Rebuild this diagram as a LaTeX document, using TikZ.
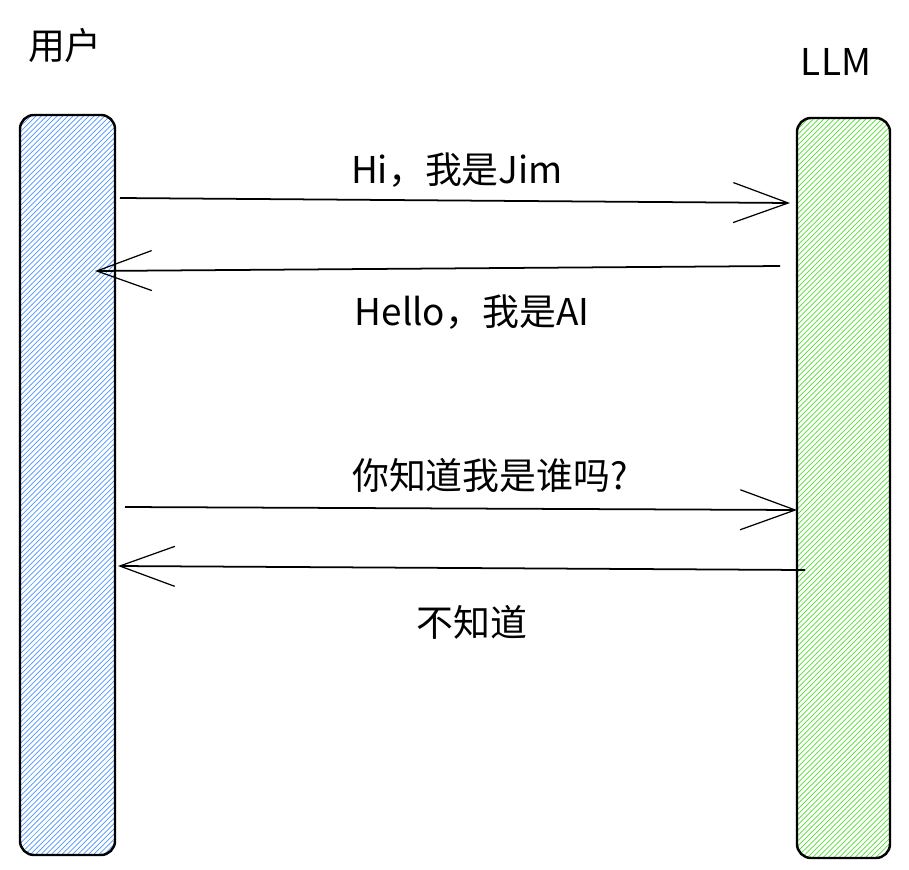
\documentclass[tikz,border=0pt]{standalone}
\usepackage{fontspec}
\setmainfont{Liberation Sans}
\newfontfamily\cjk{Noto Sans CJK SC}
\usetikzlibrary{arrows.meta,patterns,positioning}

\begin{document}
\begin{tikzpicture}[x=0.02cm,y=-0.02cm,
        bar/.style={draw=black,line width=1.4pt,rounded corners=8pt},
        msg/.style={line width=1pt,-{Straight Barb[length=1.1cm,width=0.8cm,line width=0.7pt]}},
        lbl/.style={font=\cjk\fontsize{21}{24}\selectfont}
    ]
        \useasboundingbox (0,0) rectangle (909,869);

        % the two lifelines
        \draw[bar,pattern={north east lines},pattern color=blue!60!cyan!70]
            (20,115) rectangle (115,855);
        \draw[bar,pattern={north east lines},pattern color=green!70!olive!80]
            (797,118) rectangle (890,858);
        \node[lbl] (user) at (65,45) {用户};
        \node[lbl] (llm) at (836,62) {LLM};

        % anchor points on the bars
        \coordinate (u1) at (120,198);
        \coordinate (l1) at (790,203);
        \coordinate (l2) at (780,266);
        \coordinate (u2) at (95,271);
        \coordinate (u3) at (125,507);
        \coordinate (l3) at (797,510);
        \coordinate (l4) at (805,570);
        \coordinate (u4) at (118,566);

        % messages
        \draw[msg] (u1) -- (l1);
        \draw[msg] (l2) -- (u2);
        \draw[msg] (u3) -- (l3);
        \draw[msg] (l4) -- (u4);

        \node[lbl] (m1) at (457,170) {Hi，我是Jim};
        \node[lbl] (m2) at (472,312) {Hello，我是AI};
        \node[lbl] (m3) at (490,475) {你知道我是谁吗?};
        \node[lbl] (m4) at (472,622) {不知道};
    \end{tikzpicture}
\end{document}
